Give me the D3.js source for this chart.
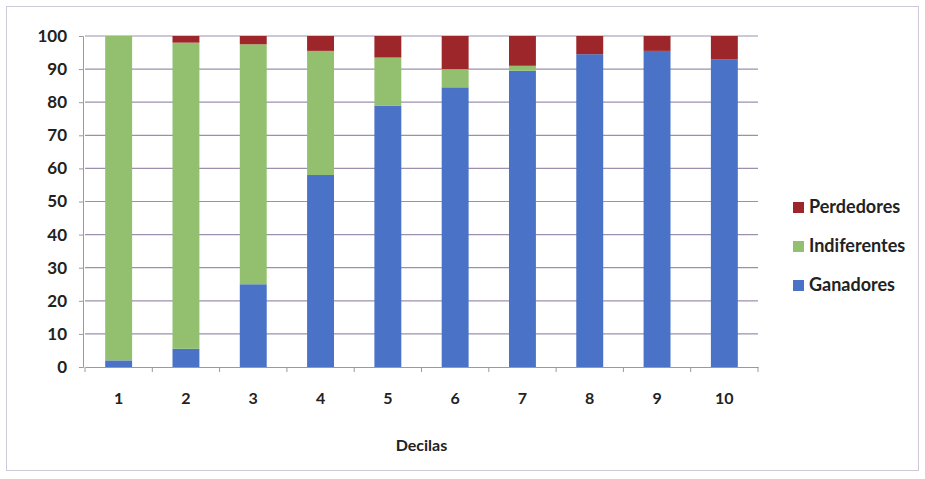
<!DOCTYPE html>
<html><head><meta charset="utf-8">
<script src="https://cdn.jsdelivr.net/npm/d3@7/dist/d3.min.js"></script>
<style>body{margin:0;background:#fff}svg{display:block}</style>
</head><body>
<svg id="c" width="925" height="479"></svg>
<script>
const categories = ["1","2","3","4","5","6","7","8","9","10"];
const ganadores    = [2, 5.5, 25, 58, 79, 84.5, 89.5, 94.5, 95.5, 93];
const indiferentes = [98, 92.5, 72.5, 37.5, 14.5, 5.5, 1.5, 0, 0, 0];
const perdedores   = [0, 2, 2.5, 4.5, 6.5, 10, 9, 5.5, 4.5, 7];
const seriesNames = ["Ganadores","Indiferentes","Perdedores"];
const yTicks = [0,10,20,30,40,50,60,70,80,90,100];
const colors = {Ganadores:"#4a72c6", Indiferentes:"#93c06e", Perdedores:"#9c2629"};

const svg = d3.select("#c");
const font = "Lato, 'Open Sans', sans-serif";
svg.append("rect").attr("x",6.5).attr("y",6.5).attr("width",912).attr("height",464)
  .attr("fill","#fff").attr("stroke","#cfc8d8");

const x0=85, x1=758, yTop=36, yBot=367;
const x = d3.scaleBand().domain(categories).range([x0,x1]).paddingInner(0.6).paddingOuter(0.3);
const y = d3.scaleLinear().domain([0,100]).range([yBot,yTop]);

const rows = categories.map((c,i)=>({cat:c, Ganadores:ganadores[i], Indiferentes:indiferentes[i], Perdedores:perdedores[i]}));
const stack = d3.stack().keys(seriesNames)(rows);

// gridlines
svg.append("g").selectAll("line").data(yTicks.filter(t=>t>0)).join("line")
  .attr("x1",x0).attr("x2",x1).attr("y1",d=>y(d)).attr("y2",d=>y(d))
  .attr("stroke","#9d8fae").attr("stroke-width",1.2);

// bars
svg.append("g").selectAll("g").data(stack).join("g").attr("fill",d=>colors[d.key])
  .selectAll("rect").data(d=>d).join("rect")
  .attr("x",d=>x(d.data.cat)).attr("width",x.bandwidth())
  .attr("y",d=>y(d[1])).attr("height",d=>Math.max(0,y(d[0])-y(d[1])));

// y axis
const ya = svg.append("g").attr("transform",`translate(${x0-2},0)`)
  .call(d3.axisLeft(y).tickValues(yTicks).tickSize(4).tickPadding(12));
ya.select(".domain").attr("stroke","#9a9a9a");
ya.selectAll(".tick line").attr("stroke","#9a9a9a");
ya.selectAll("text").attr("font-family",font).attr("font-size",17).attr("font-weight","bold").attr("fill","#222");

// x axis
const xa = svg.append("g").attr("transform",`translate(0,${yBot})`)
  .call(d3.axisBottom(x).tickSize(0).tickPadding(26));
xa.select(".domain").attr("stroke","#9a9a9a");
xa.selectAll("text").attr("font-family",font).attr("font-size",16).attr("font-weight","bold").attr("fill","#222");
// tick marks at band boundaries
const bounds = categories.map(c=>x(c)-x.step()*x.paddingInner()/2).concat([x1]);
svg.append("g").selectAll("line").data(bounds).join("line")
  .attr("x1",d=>d).attr("x2",d=>d).attr("y1",yBot).attr("y2",yBot+5).attr("stroke","#9a9a9a");

svg.append("text").attr("x",(x0+x1)/2).attr("y",451).attr("text-anchor","middle")
  .attr("font-family",font).attr("font-size",16).attr("font-weight","bold").attr("fill","#222").text("Decilas");

// legend
const leg = svg.append("g");
const legItems = ["Perdedores","Indiferentes","Ganadores"];
legItems.forEach((k,i)=>{
  const ly = 207 + i*39;
  leg.append("rect").attr("x",793).attr("y",ly-5).attr("width",11).attr("height",11).attr("fill",colors[k]);
  leg.append("text").attr("x",809).attr("y",ly+6).attr("font-family",font).attr("font-size",18)
    .attr("font-weight","bold").attr("fill","#222").text(k);
});
</script>
</body></html>
